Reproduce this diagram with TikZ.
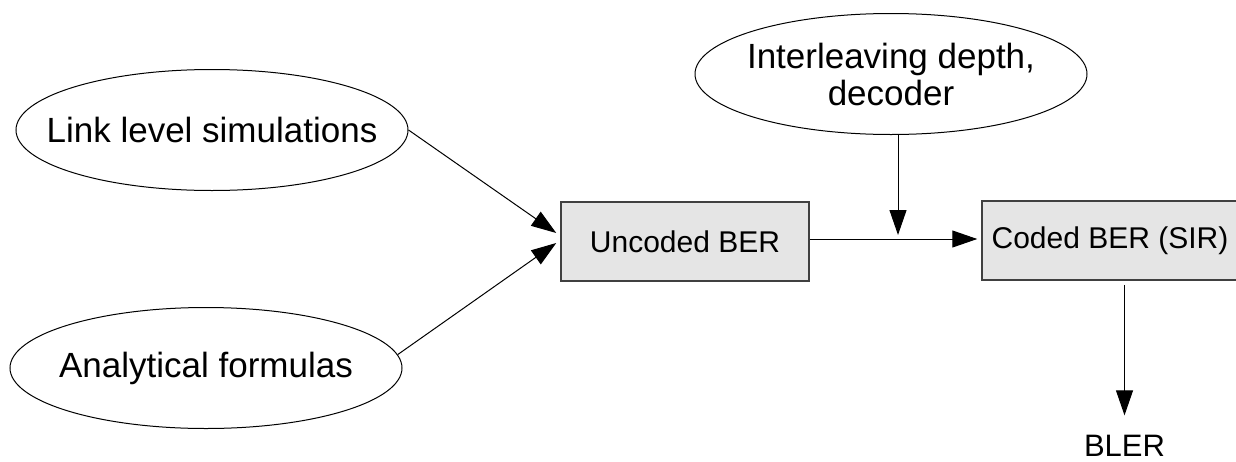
\documentclass[tikz,border=0pt]{standalone}
\usepackage{fontspec}
\setmainfont{Liberation Sans}
\usetikzlibrary{arrows.meta,shapes.geometric}
\tikzset{
  source/.style={ellipse, draw=black, line width=1pt, minimum width=392pt,
    minimum height=121pt, inner sep=0pt},
  srctext/.style={inner sep=0pt, align=center, font=\fontsize{35}{37}\selectfont},
  stage/.style={rectangle, draw=black!75, fill=black!10, line width=1.5pt,
    minimum height=79pt, inner sep=0pt, font=\fontsize{30}{36}\selectfont},
  flow/.style={draw=black, line width=1pt, -{Triangle[length=25pt,width=17pt]}},
}
\begin{document}
\begin{tikzpicture}[x=1pt,y=-1pt]
  \useasboundingbox (0,0) rectangle (1236,461);
  \clip (0,0) rectangle (1236,461);

  % inputs
  \node[source, label={[srctext]center:Link level simulations}] (lnk) at (212,130) {};
  \node[source, label={[srctext]center:Analytical formulas}] (ana) at (206,368) {};
  \node[source, label={[srctext]center:{Interleaving depth,\\decoder}}] (ilv) at (891,74) {};

  % processing stages
  \node[stage, minimum width=248pt] (unc) at (685,241.5) {Uncoded BER};
  \node[stage, minimum width=256pt] (cod) at (1110,240.5) {Coded BER (SIR)};

  % output
  \node[inner sep=0pt, font=\fontsize{31}{36}\selectfont] (bler) at (1124.5,445.7) {BLER};

  % point where the interleaver parameters join the main flow
  \coordinate (mix) at (898,239);

  \draw[flow] (lnk.east) -- ([xshift=-4pt,yshift=8.5pt]unc.west);
  \draw[flow] (ana.4) -- ([xshift=-4pt,yshift=-1.5pt]unc.west);
  \draw[flow, shorten >=4pt] (unc.east |- mix) -- (cod.west |- mix);
  \draw[flow, shorten >=4pt] (ilv.south -| mix) -- (mix);
  \draw[flow] ([yshift=-4pt]cod.south -| bler) -- ([yshift=19.5pt]bler.north);
\end{tikzpicture}
\end{document}
